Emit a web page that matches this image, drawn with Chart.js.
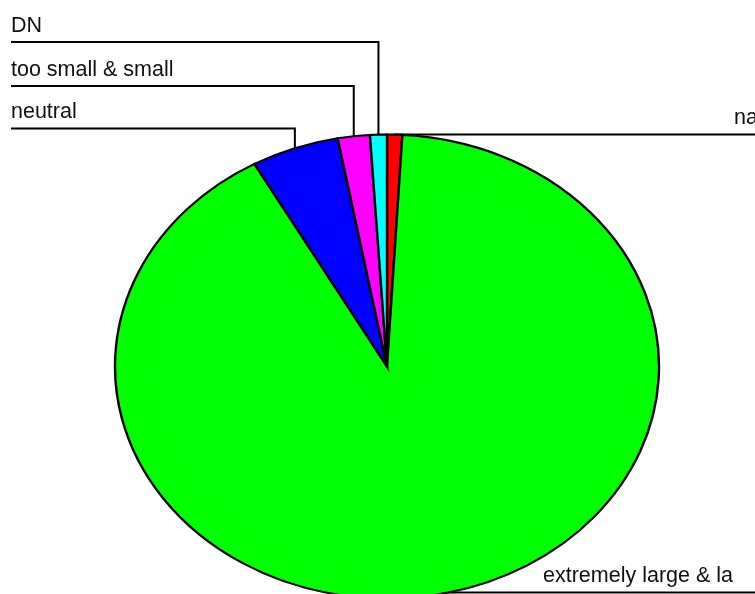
<!DOCTYPE html>
<html>
<head>
<meta charset="utf-8">
<script src="https://cdn.jsdelivr.net/npm/chart.js@4/dist/chart.umd.min.js"></script>
<style>
  html, body { margin: 0; padding: 0; background: #ffffff; }
  #wrap { width: 755px; height: 594px; position: relative; }
</style>
</head>
<body>
<div id="wrap"><canvas id="pie" width="755" height="594"></canvas></div>
<script>
// Categories and their shares (percent), listed clockwise from 12 o'clock
const categories = ['na', 'extremely large & la', 'neutral', 'too small & small', 'DN'];
const shares = [0.9, 91.0, 5.2, 1.9, 1.0];
const sliceColors = ['#ff0000', '#00ff00', '#0000ff', '#ff00ff', '#00ffff'];

// Drawing layout for the stretched (elliptical) pie and its leader labels
const layoutCfg = {
  cx: 387, cy: 366.5, rx: 272, ry: 232,
  leftRows: [128.5, 86, 42],   // from the slice nearest the left edge upward
  leftTextX: 11,
  rightTextX: { top: 734, bottom: 543 },
  textGap: 10.5,
  font: '21.5px "Liberation Sans", Arial, sans-serif'
};

// Stretch the circular pie into an ellipse around the chosen centre
const ellipsePlugin = {
  id: 'ellipse',
  beforeDatasetsDraw(chart) {
    const arc = chart.getDatasetMeta(0).data[0];
    const ctx = chart.ctx;
    ctx.save();
    ctx.translate(layoutCfg.cx, layoutCfg.cy);
    ctx.scale(layoutCfg.rx / arc.outerRadius, layoutCfg.ry / arc.outerRadius);
    ctx.translate(-arc.x, -arc.y);
  },
  afterDatasetsDraw(chart) {
    chart.ctx.restore();
  }
};

// Leader lines and category names
const leaderPlugin = {
  id: 'leaders',
  afterDraw(chart) {
    const ctx = chart.ctx;
    const meta = chart.getDatasetMeta(0);
    const pts = meta.data.map((a, i) => {
      const mid = (a.startAngle + a.endAngle) / 2;
      return {
        i,
        x: layoutCfg.cx + layoutCfg.rx * Math.cos(mid),
        y: layoutCfg.cy + layoutCfg.ry * Math.sin(mid)
      };
    });
    const left = pts.filter(p => p.x < layoutCfg.cx - 2).sort((a, b) => a.x - b.x);
    const right = pts.filter(p => p.x >= layoutCfg.cx - 2);

    ctx.save();
    ctx.strokeStyle = '#000000';
    ctx.lineWidth = 2;
    ctx.fillStyle = '#111111';
    ctx.font = layoutCfg.font;
    ctx.textBaseline = 'alphabetic';
    ctx.textAlign = 'left';

    left.forEach((p, k) => {
      const rowY = layoutCfg.leftRows[k];
      ctx.beginPath();
      ctx.moveTo(p.x, p.y);
      ctx.lineTo(p.x, rowY);
      ctx.lineTo(layoutCfg.leftTextX, rowY);
      ctx.stroke();
      ctx.fillText(categories[p.i], layoutCfg.leftTextX, rowY - layoutCfg.textGap);
    });

    right.forEach(p => {
      const isTop = p.y < layoutCfg.cy;
      ctx.beginPath();
      ctx.moveTo(p.x, p.y);
      ctx.lineTo(chart.width + 2, p.y);
      ctx.stroke();
      const tx = isTop ? layoutCfg.rightTextX.top : layoutCfg.rightTextX.bottom;
      ctx.fillText(categories[p.i], tx, p.y - layoutCfg.textGap);
    });
    ctx.restore();
  }
};

new Chart(document.getElementById('pie'), {
  type: 'pie',
  data: {
    labels: categories,
    datasets: [{
      data: shares,
      backgroundColor: sliceColors,
      borderColor: '#000000',
      borderWidth: 2,
      borderJoinStyle: 'miter',
      clip: false
    }]
  },
  options: {
    responsive: false,
    animation: false,
    rotation: 0,
    layout: { padding: { top: 134, bottom: 0, left: 150, right: 150 } },
    plugins: {
      legend: { display: false },
      tooltip: { enabled: false }
    }
  },
  plugins: [ellipsePlugin, leaderPlugin]
});
</script>
</body>
</html>
